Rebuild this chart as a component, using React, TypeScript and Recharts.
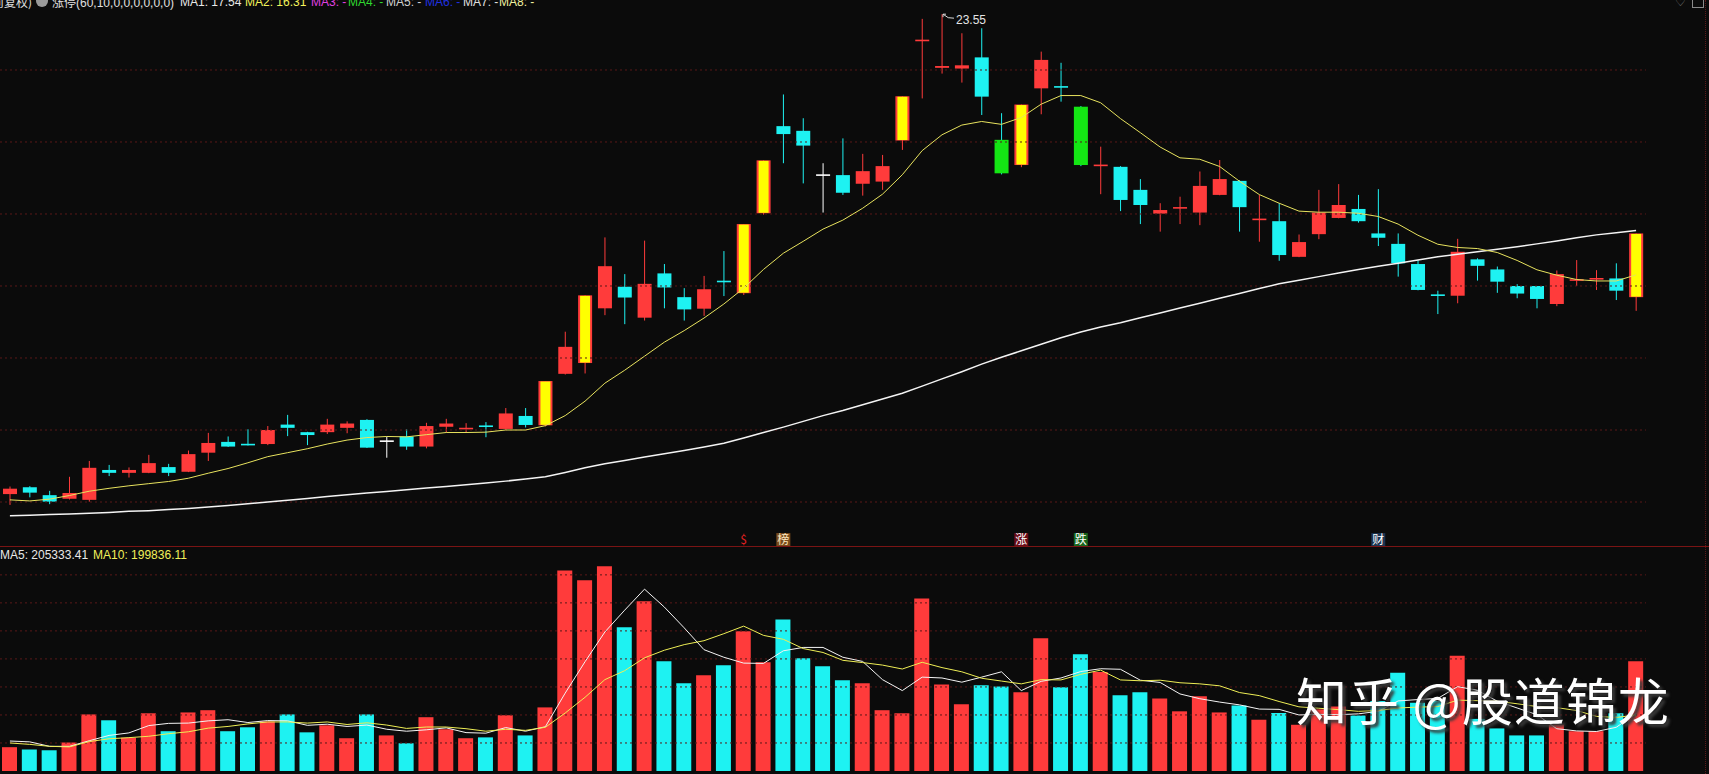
import React from "react";
import { ComposedChart, Bar, Line, XAxis, YAxis, ReferenceLine, ReferenceDot, Cell } from "recharts";

// daily OHLC
const opens = [
  10.22, 10.41, 10.19, 10.09, 10.06, 10.89, 10.81, 10.81, 10.97, 10.84,
  11.37, 11.67, 11.61, 11.61, 12.15, 11.94, 11.94, 12.06, 12.28, 11.69,
  11.82, 11.54, 12.09, 12.02, 12.12, 12.03, 12.39, 12.13, 13.56, 13.86,
  15.38, 15.98, 15.12, 16.35, 15.69, 15.37, 16.14, 15.80, 18.02, 20.44,
  20.31, 19.08, 19.08, 18.84, 18.90, 20.04, 22.81, 22.06, 22.04, 22.35,
  20.06, 19.36, 21.49, 21.55, 20.98, 19.34, 19.31, 18.67, 18.01, 18.15,
  18.04, 18.53, 18.92, 17.84, 17.80, 16.81, 17.44, 17.89, 18.14, 17.46,
  17.17, 16.61, 15.76, 15.73, 16.74, 16.46, 16.00, 16.00, 15.50, 16.15,
  16.18, 16.21, 15.69,
];
const highs = [
  10.43, 10.44, 10.31, 10.70, 11.14, 11.03, 10.96, 11.31, 11.06, 11.43,
  11.92, 11.82, 12.02, 12.11, 12.42, 11.95, 12.31, 12.24, 12.30, 11.82,
  12.02, 12.20, 12.31, 12.19, 12.22, 12.61, 12.61, 13.36, 14.73, 15.74,
  17.35, 16.33, 17.26, 16.61, 15.94, 16.28, 16.97, 17.72, 19.49, 21.32,
  20.66, 19.41, 20.10, 19.67, 19.64, 21.27, 23.42, 23.55, 23.02, 23.16,
  20.80, 21.04, 22.51, 22.20, 21.00, 19.87, 19.33, 18.97, 18.30, 18.48,
  19.18, 19.50, 18.94, 18.53, 18.30, 17.43, 18.67, 18.83, 18.53, 18.69,
  17.46, 16.72, 15.87, 17.31, 16.77, 16.54, 16.05, 16.00, 16.43, 16.72,
  16.44, 16.63, 17.46,
];
const lows = [
  9.92, 10.13, 9.94, 10.07, 10.01, 10.72, 10.68, 10.80, 10.72, 10.83,
  11.14, 11.53, 11.57, 11.58, 11.83, 11.58, 11.89, 11.91, 11.50, 11.23,
  11.45, 11.49, 11.94, 11.94, 11.80, 12.00, 12.07, 12.10, 13.54, 13.57,
  15.19, 14.94, 15.04, 15.38, 15.04, 15.17, 15.72, 15.75, 17.98, 19.41,
  18.85, 18.04, 18.53, 18.51, 18.67, 19.78, 21.21, 21.90, 21.65, 20.75,
  19.10, 19.30, 20.77, 21.12, 19.33, 18.55, 18.08, 17.72, 17.51, 17.72,
  17.69, 18.52, 17.51, 17.23, 16.70, 16.80, 17.30, 17.88, 17.76, 17.11,
  16.26, 15.88, 15.22, 15.52, 16.15, 15.81, 15.66, 15.38, 15.44, 16.00,
  15.89, 15.61, 15.31,
];
const closes = [
  10.37, 10.26, 10.01, 10.25, 10.95, 10.81, 10.89, 11.08, 10.81, 11.33,
  11.64, 11.54, 11.58, 12.00, 12.06, 11.86, 12.15, 12.18, 11.51, 11.69,
  11.54, 12.11, 12.18, 12.06, 12.09, 12.46, 12.14, 13.36, 14.31, 15.74,
  16.55, 15.68, 16.06, 15.96, 15.35, 15.91, 16.11, 17.72, 19.49, 20.22,
  19.90, 19.08, 18.59, 19.19, 19.33, 21.27, 22.83, 22.11, 22.13, 21.26,
  19.13, 21.04, 22.28, 21.51, 19.36, 19.36, 18.39, 18.25, 18.11, 18.19,
  18.78, 18.97, 18.19, 17.86, 16.86, 17.22, 18.04, 18.25, 17.80, 17.34,
  16.63, 15.89, 15.73, 16.95, 16.56, 16.12, 15.79, 15.64, 16.33, 16.18,
  16.22, 15.87, 17.46,
];
// MA2 (10 day, yellow) and MA1 (60 day, white)
const ma10 = [
  10.06, 10.03, 10.08, 10.18, 10.30, 10.38, 10.45, 10.51, 10.57, 10.66,
  10.80, 10.93, 11.09, 11.26, 11.37, 11.48, 11.61, 11.72, 11.79, 11.82,
  11.81, 11.87, 11.93, 11.93, 11.94, 12.00, 12.00, 12.12, 12.40, 12.80,
  13.30, 13.66, 14.05, 14.44, 14.76, 15.11, 15.50, 15.94, 16.46, 16.91,
  17.24, 17.58, 17.83, 18.16, 18.55, 19.09, 19.76, 20.20, 20.47, 20.57,
  20.49, 20.68, 21.05, 21.29, 21.29, 21.09, 20.65, 20.26, 19.86, 19.56,
  19.52, 19.32, 18.91, 18.54, 18.30, 18.08, 18.05, 18.05, 18.02, 17.93,
  17.72, 17.41, 17.16, 17.07, 17.04, 16.93, 16.71, 16.45, 16.30, 16.18,
  16.14, 16.14, 16.31,
];
const ma60 = [
  9.62, 9.63, 9.65, 9.67, 9.69, 9.71, 9.74, 9.76, 9.79, 9.82,
  9.86, 9.90, 9.95, 10.00, 10.05, 10.10, 10.15, 10.20, 10.25, 10.29,
  10.34, 10.39, 10.43, 10.48, 10.53, 10.58, 10.64, 10.70, 10.82, 10.95,
  11.06, 11.15, 11.25, 11.34, 11.43, 11.53, 11.63, 11.78, 11.93, 12.08,
  12.24, 12.40, 12.54, 12.70, 12.86, 13.02, 13.22, 13.42, 13.62, 13.83,
  14.02, 14.20, 14.38, 14.56, 14.72, 14.86, 14.98, 15.12, 15.25, 15.39,
  15.52, 15.66, 15.79, 15.93, 16.06, 16.16, 16.26, 16.36, 16.46, 16.55,
  16.63, 16.72, 16.81, 16.88, 16.95, 17.02, 17.09, 17.17, 17.25, 17.34,
  17.42, 17.48, 17.54,
];
// volume (lots) and its 5 / 10 day averages
const volumes = [
  85000, 77000, 74000, 102000, 202000, 181000, 119000, 206000, 142000, 209000,
  217000, 142000, 156000, 177000, 202000, 138000, 163000, 117000, 202000, 127000,
  99000, 192000, 149000, 117000, 120000, 199000, 127000, 227000, 716000, 681000,
  731000, 513000, 606000, 392000, 313000, 342000, 377000, 499000, 388000, 541000,
  402000, 374000, 324000, 313000, 217000, 206000, 616000, 309000, 238000, 306000,
  302000, 281000, 474000, 299000, 417000, 353000, 270000, 281000, 259000, 213000,
  267000, 209000, 234000, 183000, 207000, 165000, 220000, 230000, 198000, 250000,
  351000, 244000, 250000, 411000, 186000, 152000, 127000, 127000, 165000, 142000,
  142000, 206000, 392000,
];
const volMa5 = [
  107000, 104000, 88000, 88000, 108000, 127000, 136000, 162000, 170000, 171000,
  179000, 183000, 173000, 180000, 179000, 163000, 167000, 159000, 164000, 149000,
  142000, 147000, 154000, 137000, 135000, 155000, 142000, 158000, 278000, 390000,
  496000, 574000, 649000, 585000, 511000, 433000, 406000, 385000, 384000, 429000,
  441000, 441000, 406000, 391000, 326000, 287000, 335000, 332000, 317000, 335000,
  354000, 287000, 320000, 332000, 355000, 365000, 363000, 324000, 316000, 275000,
  258000, 246000, 236000, 221000, 220000, 200000, 202000, 201000, 204000, 213000,
  250000, 255000, 259000, 301000, 288000, 249000, 225000, 201000, 151000, 143000,
  141000, 156000, 205000,
];
const volMa10 = [
  100000, 95000, 88000, 86000, 105000, 115000, 119000, 124000, 133000, 140000,
  153000, 159000, 168000, 175000, 175000, 171000, 175000, 166000, 172000, 164000,
  152000, 157000, 157000, 151000, 142000, 149000, 145000, 156000, 207000, 263000,
  326000, 358000, 404000, 431000, 451000, 465000, 490000, 517000, 484000, 470000,
  437000, 423000, 395000, 387000, 378000, 364000, 388000, 369000, 354000, 331000,
  321000, 311000, 326000, 325000, 345000, 360000, 325000, 322000, 324000, 315000,
  311000, 304000, 280000, 269000, 248000, 229000, 224000, 219000, 213000, 216000,
  225000, 228000, 230000, 253000, 251000, 249000, 240000, 230000, 226000, 216000,
  195000, 191000, 200000,
];

const limitUpDays = [27, 29, 37, 38, 45, 51, 82];
const limitDownDays = [50, 54];
const priceGrid = [10, 12, 14, 16, 18, 20, 22];
const volumeGrid = [100000, 200000, 300000, 400000, 500000, 600000, 700000];
const markers = [
  { day: 37, text: "$", kind: "money" },
  { day: 39, text: "榜", kind: "list" },
  { day: 51, text: "涨", kind: "rise" },
  { day: 54, text: "跌", kind: "fall" },
  { day: 69, text: "财", kind: "fin" },
];

const BG = "#0b0b0b";
const RED = "#ff3b3b";
const CYAN = "#1ef2f2";
const YELLOW = "#ffff00";
const GREEN = "#14e614";
const GRID = "#5a1818";
const FONT = "'Liberation Sans', Arial, sans-serif";
const PRICE_MIN = 8.778;
const PRICE_MAX = 23.944;
const MARKER_PRICE = 8.97;

const markerStyle: Record<string, { bg: string; fg: string }> = {
  money: { bg: "transparent", fg: "#e02020" },
  list: { bg: "#7a4b1c", fg: "#ffe9c0" },
  rise: { bg: "#6a0c18", fg: "#ffffff" },
  fall: { bg: "#17651c", fg: "#ffffff" },
  fin: { bg: "#1c3452", fg: "#ffffff" },
};

const days = closes.map((_, i) => i + 1);

const rows = days.map((day, i) => {
  const o = opens[i];
  const c = closes[i];
  const prev = i > 0 ? closes[i - 1] : o;
  let kind = c > o ? "up" : c < o ? "down" : "flat";
  if (limitUpDays.includes(i)) kind = "limitUp";
  if (limitDownDays.includes(i)) kind = "limitDown";
  return {
    day,
    open: o,
    high: highs[i],
    low: lows[i],
    close: c,
    hl: [lows[i], highs[i]],
    kind,
    volUp: c > o || (c === o && c >= prev),
    ma10: ma10[i],
    ma60: ma60[i],
    vol: volumes[i],
    vma5: volMa5[i],
    vma10: volMa10[i],
  };
});

const Candle = (props: any) => {
  const { x, y, width, height, payload } = props;
  if (!payload) return null;
  const { open, close, high, low, kind } = payload;
  const top0 = Math.min(y, y + height);
  const h = Math.abs(height);
  const k = high - low > 0 ? h / (high - low) : 0;
  const yOf = (p: number) => top0 + (high - p) * k;
  const cx = x + width / 2;
  let bodyTop = yOf(Math.max(open, close));
  let bodyH = Math.abs(open - close) * k;
  if (bodyH < 1.6) {
    bodyTop -= (1.6 - bodyH) / 2;
    bodyH = 1.6;
  }
  const body = kind === "up" ? RED : kind === "down" ? CYAN : kind === "flat" ? "#ffffff" : kind === "limitUp" ? YELLOW : GREEN;
  const wick = kind === "limitUp" ? RED : kind === "limitDown" ? CYAN : body;
  return (
    <g>
      <line x1={cx} x2={cx} y1={top0} y2={top0 + h} stroke={wick} strokeWidth={1} />
      {kind === "limitUp" ? (
        <g>
          <rect x={x} y={bodyTop} width={width} height={bodyH} fill={RED} />
          <rect x={x + 2} y={bodyTop + 0.5} width={width - 4} height={Math.max(bodyH - 1, 0)} fill={YELLOW} />
        </g>
      ) : (
        <rect x={x} y={bodyTop} width={width} height={bodyH} fill={body} />
      )}
    </g>
  );
};

const peakIndex = highs.indexOf(Math.max(...highs));

const PeakLabel = (props: any) => {
  const { cx, cy } = props;
  if (cx == null || cy == null) return null;
  return (
    <g>
      <path d={`M${cx + 1} ${cy} l3 0 M${cx + 1} ${cy} l0 3 M${cx + 1} ${cy} Q${cx + 6} ${cy + 5} ${cx + 12} ${cy + 4}`} stroke="#d8d8d8" fill="none" strokeWidth={1} />
      <text x={cx + 14} y={cy + 10} fill="#e4e4e4" fontSize={12} fontFamily={FONT}>
        {highs[peakIndex].toFixed(2)}
      </text>
    </g>
  );
};

const makeMarker = (text: string, kind: string) => (props: any) => {
  const { cx, cy } = props;
  if (cx == null || cy == null) return null;
  const s = markerStyle[kind];
  return (
    <g>
      <rect x={cx - 7} y={cy - 6} width={14} height={13} fill={s.bg} />
      <text x={cx} y={cy + 5} textAnchor="middle" fill={s.fg} fontSize={12} fontFamily="'Noto Sans CJK SC', sans-serif">
        {text}
      </text>
    </g>
  );
};

const headerItems = [
  { x: 180, text: "MA1: " + ma60[ma60.length - 1].toFixed(2), color: "#e8e8e8" },
  { x: 245, text: "MA2: " + ma10[ma10.length - 1].toFixed(2), color: "#f2f25a" },
  { x: 311, text: "MA3: -", color: "#e040e0" },
  { x: 348, text: "MA4: -", color: "#30d830" },
  { x: 386, text: "MA5: -", color: "#d0d0d0" },
  { x: 425, text: "MA6: -", color: "#2030e0" },
  { x: 463, text: "MA7: -", color: "#e0e0e0" },
  { x: 499, text: "MA8: -", color: "#f0f0a0" },
];

export default function App() {
  return (
    <div style={{ position: "relative", width: 1709, height: 774, background: BG, overflow: "hidden", fontFamily: FONT }}>
      <style>{`body{margin:0;background:${BG};}`}</style>

      <div style={{ position: "absolute", left: 0, top: 0 }}>
        <ComposedChart width={1709} height={546} data={rows} margin={{ top: 0, right: 63, bottom: 0, left: 0 }}>
          <XAxis dataKey="day" hide />
          <YAxis hide domain={[PRICE_MIN, PRICE_MAX]} allowDataOverflow />
          {priceGrid.map((v) => (
            <ReferenceLine key={v} y={v} stroke={GRID} strokeDasharray="2 3" />
          ))}
          <Bar dataKey="hl" barSize={14} shape={<Candle />} isAnimationActive={false} />
          <Line dataKey="ma60" type="linear" stroke="#f4f4f4" strokeWidth={1.5} dot={false} isAnimationActive={false} />
          <Line dataKey="ma10" type="linear" stroke="#e8e35e" strokeWidth={1} dot={false} isAnimationActive={false} />
          <ReferenceDot x={days[peakIndex]} y={highs[peakIndex]} r={1} ifOverflow="visible" shape={PeakLabel} />
          {markers.map((m) => (
            <ReferenceDot key={m.day} x={days[m.day]} y={MARKER_PRICE} r={1} ifOverflow="visible" shape={makeMarker(m.text, m.kind)} />
          ))}
        </ComposedChart>
      </div>

      <div style={{ position: "absolute", left: 0, top: 546, width: 1709, height: 1, background: "#7a1414" }} />
      <div style={{ position: "absolute", left: 1705, top: 0, width: 0, height: 774, borderLeft: `1px dotted ${GRID}` }} />

      <div style={{ position: "absolute", left: 0, top: 546 }}>
        <ComposedChart width={1709} height={228} data={rows} margin={{ top: 0, right: 63, bottom: 3, left: 0 }}>
          <XAxis dataKey="day" hide />
          <YAxis hide domain={[0, 803000]} allowDataOverflow />
          {volumeGrid.map((v) => (
            <ReferenceLine key={v} y={v} stroke={GRID} strokeDasharray="2 3" />
          ))}
          <Bar dataKey="vol" barSize={15} isAnimationActive={false}>
            {rows.map((r) => (
              <Cell key={r.day} fill={r.volUp ? RED : CYAN} />
            ))}
          </Bar>
          <Line dataKey="vma5" type="linear" stroke="#f4f4f4" strokeWidth={1} dot={false} isAnimationActive={false} />
          <Line dataKey="vma10" type="linear" stroke="#eeee55" strokeWidth={1} dot={false} isAnimationActive={false} />
        </ComposedChart>
      </div>

      {/* header of the price panel */}
      <div style={{ position: "absolute", left: -8, top: -4, fontSize: 12, lineHeight: "12px", color: "#e0e0e0", whiteSpace: "nowrap", fontFamily: "'Noto Sans CJK SC', sans-serif" }}>
        前复权)
      </div>
      <div style={{ position: "absolute", left: 36, top: -5, width: 12, height: 12, borderRadius: 6, background: "#9a9a9a" }} />
      <div style={{ position: "absolute", left: 52, top: -4, fontSize: 12, lineHeight: "12px", color: "#e0e0e0", whiteSpace: "nowrap" }}>
        <span style={{ fontFamily: "'Noto Sans CJK SC', sans-serif" }}>涨停</span>(60,10,0,0,0,0,0,0)
      </div>
      {headerItems.map((h) => (
        <div key={h.x} style={{ position: "absolute", left: h.x, top: -4, fontSize: 12, lineHeight: "12px", color: h.color, whiteSpace: "nowrap" }}>
          {h.text}
        </div>
      ))}
      <div style={{ position: "absolute", left: 1675, top: -4, fontSize: 12, lineHeight: "12px", color: "#8a8a8a" }}>♡</div>
      <div style={{ position: "absolute", left: 1692, top: -3, width: 10, height: 9, border: "1px solid #8a8a8a" }} />

      {/* header of the volume panel */}
      <div style={{ position: "absolute", left: 0, top: 549, fontSize: 12, lineHeight: "12px", whiteSpace: "nowrap" }}>
        <span style={{ color: "#e8e8e8" }}>MA5: 205333.41</span>
        <span style={{ color: "#f0f05a", marginLeft: 5 }}>MA10: 199836.11</span>
      </div>

      {/* watermark */}
      <div
        style={{
          position: "absolute",
          left: 1296,
          top: 671,
          fontSize: 51,
          letterSpacing: 1,
          lineHeight: "56px",
          color: "#ffffff",
          whiteSpace: "nowrap",
          fontFamily: "'Noto Sans CJK SC', sans-serif",
          textShadow: "3px 3px 3px #3a3a3a",
        }}
      >
        知乎 @股道锦龙
      </div>
    </div>
  );
}
